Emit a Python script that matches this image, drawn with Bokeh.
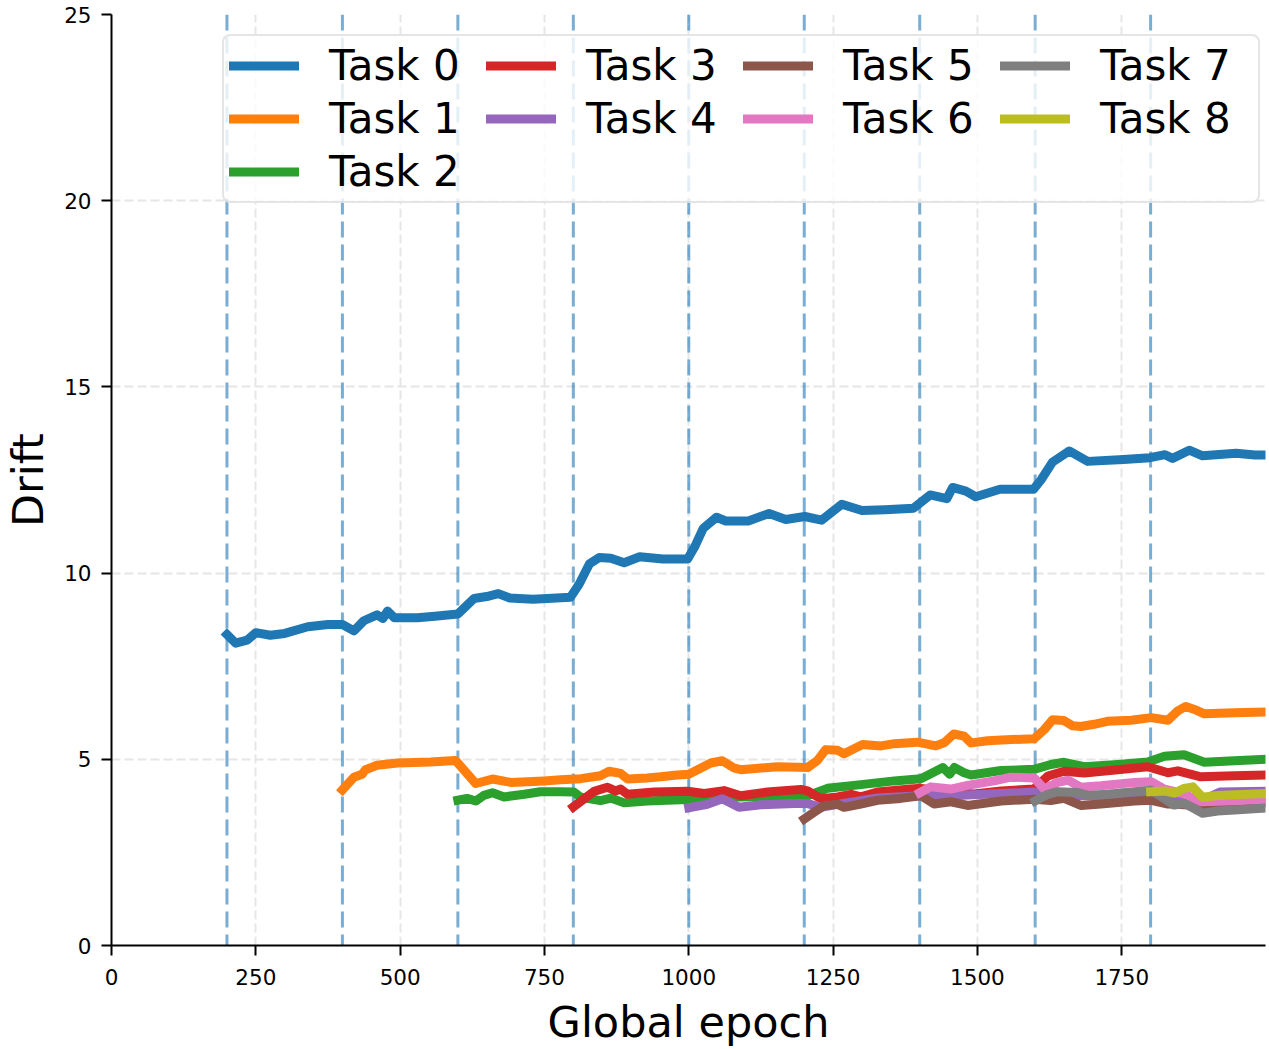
from bokeh.plotting import figure
from bokeh.models import Legend, LegendItem, Span, FixedTicker, Range1d
from bokeh.embed import file_html
from bokeh.resources import INLINE

# Drift of each task's parameters over global training epochs
task0_x = [200, 215, 235, 250, 275, 300, 340, 375, 400, 420, 437, 460, 470, 478, 490, 530, 560, 600,
           628, 650, 670, 690, 730, 755, 795, 810, 828, 845, 865, 888, 915, 955, 998, 1010, 1025, 1048,
           1064, 1103, 1139, 1168, 1201, 1230, 1265, 1300, 1340, 1389, 1418, 1447, 1457, 1480, 1497,
           1539, 1597, 1610, 1630, 1659, 1691, 1753, 1799, 1825, 1838, 1867, 1890, 1948, 1981, 1999]
task0_y = [8.35, 8.12, 8.2, 8.4, 8.33, 8.38, 8.56, 8.62, 8.62, 8.45, 8.72, 8.88, 8.78, 8.98, 8.8, 8.8,
           8.84, 8.9, 9.32, 9.37, 9.45, 9.33, 9.3, 9.32, 9.35, 9.7, 10.25, 10.42, 10.4, 10.28, 10.44,
           10.38, 10.38, 10.7, 11.2, 11.5, 11.4, 11.4, 11.6, 11.44, 11.52, 11.42, 11.85, 11.68, 11.7,
           11.74, 12.1, 12.0, 12.3, 12.2, 12.05, 12.25, 12.25, 12.5, 12.98, 13.28, 13.0, 13.05, 13.1,
           13.18, 13.08, 13.3, 13.15, 13.22, 13.17, 13.17]

task1_x = [400, 420, 434, 440, 460, 495, 553, 596, 631, 660, 692, 749, 778, 813, 847, 862, 882, 894,
           928, 951, 980, 1000, 1038, 1058, 1079, 1090, 1154, 1206, 1223, 1237, 1258, 1269, 1301, 1333,
           1356, 1396, 1428, 1443, 1459, 1477, 1489, 1518, 1558, 1598, 1616, 1630, 1650, 1665, 1679,
           1702, 1725, 1766, 1801, 1830, 1847, 1861, 1876, 1893, 1945, 1999]
task1_y = [4.18, 4.52, 4.6, 4.72, 4.84, 4.9, 4.93, 4.97, 4.35, 4.47, 4.38, 4.42, 4.45, 4.48, 4.56, 4.68,
           4.62, 4.47, 4.5, 4.53, 4.58, 4.6, 4.9, 4.96, 4.76, 4.72, 4.8, 4.78, 4.97, 5.26, 5.24, 5.15,
           5.4, 5.36, 5.42, 5.46, 5.36, 5.45, 5.68, 5.62, 5.44, 5.5, 5.53, 5.55, 5.8, 6.06, 6.04, 5.9,
           5.88, 5.94, 6.02, 6.05, 6.12, 6.05, 6.3, 6.42, 6.34, 6.22, 6.25, 6.27]

task2_x = [600, 616, 631, 645, 660, 680, 715, 743, 778, 801, 813, 847, 865, 888, 928, 998, 1067, 1183,
           1206, 1240, 1298, 1356, 1402, 1425, 1440, 1452, 1460, 1477, 1489, 1541, 1598, 1627, 1650,
           1685, 1743, 1795, 1824, 1858, 1893, 1945, 1999]
task2_y = [3.9, 3.95, 3.88, 4.03, 4.1, 3.99, 4.06, 4.13, 4.13, 4.12, 3.98, 3.89, 3.96, 3.83, 3.88, 3.92,
           3.98, 4.02, 4.02, 4.22, 4.32, 4.42, 4.48, 4.66, 4.78, 4.6, 4.78, 4.64, 4.58, 4.7, 4.73, 4.86,
           4.92, 4.8, 4.86, 4.93, 5.08, 5.12, 4.92, 4.96, 5.0]

task3_x = [800, 836, 859, 873, 882, 894, 940, 998, 1027, 1061, 1090, 1136, 1194, 1206, 1229, 1258, 1281,
           1298, 1327, 1385, 1402, 1454, 1494, 1541, 1598, 1622, 1650, 1685, 1743, 1795, 1830, 1847,
           1887, 1945, 1999]
task3_y = [3.72, 4.14, 4.25, 4.15, 4.2, 4.06, 4.12, 4.14, 4.08, 4.16, 4.02, 4.12, 4.19, 4.15, 3.94, 3.99,
           4.06, 3.99, 4.12, 4.2, 4.22, 4.12, 4.07, 4.15, 4.2, 4.55, 4.68, 4.63, 4.72, 4.8, 4.64, 4.69,
           4.53, 4.56, 4.58]

task4_x = [1000, 1032, 1058, 1087, 1125, 1183, 1206, 1229, 1258, 1327, 1402, 1454, 1541, 1598, 1650,
           1714, 1801, 1858, 1890, 1920, 1999]
task4_y = [3.7, 3.79, 3.94, 3.71, 3.78, 3.81, 3.81, 3.71, 3.79, 3.96, 4.02, 4.02, 4.08, 4.12, 4.05, 4.0,
           4.08, 3.95, 3.9, 4.12, 4.14]

task5_x = [1200, 1217, 1235, 1258, 1269, 1298, 1327, 1367, 1402, 1425, 1454, 1483, 1541, 1598, 1627,
           1650, 1679, 1714, 1772, 1801, 1830, 1887, 1945, 1999]
task5_y = [3.4, 3.58, 3.76, 3.79, 3.71, 3.8, 3.9, 3.95, 4.02, 3.8, 3.86, 3.76, 3.88, 3.93, 3.89, 3.95,
           3.76, 3.8, 3.88, 3.9, 3.8, 3.76, 3.8, 3.84]

task6_x = [1400, 1419, 1454, 1483, 1529, 1558, 1598, 1616, 1639, 1657, 1679, 1714, 1772, 1801, 1824,
           1858, 1887, 1945, 1999]
task6_y = [4.1, 4.26, 4.2, 4.3, 4.42, 4.52, 4.5, 4.2, 4.38, 4.44, 4.25, 4.29, 4.38, 4.4, 4.2, 4.07, 3.86,
           3.89, 3.93]

task7_x = [1600, 1622, 1639, 1674, 1691, 1725, 1772, 1801, 1824, 1841, 1858, 1876, 1890, 1916, 1945, 1999]
task7_y = [3.88, 4.06, 4.13, 4.11, 4.03, 4.06, 4.13, 4.17, 3.94, 3.77, 3.82, 3.67, 3.55, 3.61, 3.64, 3.69]

task8_x = [1800, 1824, 1841, 1858, 1873, 1890, 1916, 1945, 1999]
task8_y = [4.13, 4.15, 4.09, 4.22, 4.26, 3.98, 4.03, 4.05, 4.08]

task_labels = ["Task 0", "Task 1", "Task 2", "Task 3", "Task 4", "Task 5", "Task 6", "Task 7", "Task 8"]
task_colors = ["#1f77b4", "#ff7f0e", "#2ca02c", "#d62728", "#9467bd",
               "#8c564b", "#e377c2", "#7f7f7f", "#bcbd22"]
task_boundaries = [200, 400, 600, 800, 1000, 1200, 1400, 1600, 1800]
x_ticks = [0, 250, 500, 750, 1000, 1250, 1500, 1750]
y_ticks = [0, 5, 10, 15, 20, 25]

series = [(task0_x, task0_y), (task1_x, task1_y), (task2_x, task2_y), (task3_x, task3_y),
          (task4_x, task4_y), (task5_x, task5_y), (task6_x, task6_y), (task7_x, task7_y),
          (task8_x, task8_y)]

FONT = "DejaVu Sans"

p = figure(width=1269, height=1049, output_backend="svg", toolbar_location=None,
           x_range=Range1d(0, 1999), y_range=Range1d(0, 25),
           min_border_left=111, min_border_right=4, min_border_top=14, min_border_bottom=104)
p.outline_line_color = None
p.background_fill_color = "white"

# axes
for ax in (p.xaxis[0], p.yaxis[0]):
    ax.axis_line_width = 2
    ax.axis_line_color = "black"
    ax.major_tick_line_width = 2
    ax.major_tick_out = 10
    ax.major_tick_in = 0
    ax.minor_tick_out = 0
    ax.minor_tick_in = 0
    ax.major_label_text_font = FONT
    ax.major_label_text_font_size = "21.5px"
    ax.major_label_text_color = "black"
    ax.axis_label_text_font = FONT
    ax.axis_label_text_font_size = "43px"
    ax.axis_label_text_font_style = "normal"
    ax.axis_label_text_color = "black"

p.xaxis.ticker = FixedTicker(ticks=x_ticks)
p.yaxis.ticker = FixedTicker(ticks=y_ticks)
p.xaxis.axis_label = "Global epoch"
p.yaxis.axis_label = "Drift"
p.xaxis.major_label_standoff = 13
p.yaxis.major_label_standoff = 10
p.xaxis.axis_label_standoff = 9
p.yaxis.axis_label_standoff = 8

# grid
p.xgrid.ticker = FixedTicker(ticks=x_ticks)
p.ygrid.ticker = FixedTicker(ticks=y_ticks)
for g in (p.xgrid[0], p.ygrid[0]):
    g.grid_line_color = "#e6e6e6"
    g.grid_line_width = 2
    g.grid_line_dash = "9 4"

# task boundaries
for b in task_boundaries:
    p.add_layout(Span(location=b, dimension="height", line_color="#1f77b4", line_alpha=0.6,
                      line_width=3, line_dash="16 7", level="underlay"))

renderers = []
for (xs, ys), color in zip(series, task_colors):
    r = p.line(xs, ys, line_color=color, line_width=9, line_join="round", line_cap="square")
    renderers.append(r)

# placeholder entry keeps the legend columns at 3/2/2/2
blank = p.line(x=[], y=[], line_alpha=0)

items = [LegendItem(label=lab, renderers=[r]) for lab, r in zip(task_labels, renderers)]
layout_items = items[0:5] + [LegendItem(label="", renderers=[blank])] + items[5:7] + \
    [LegendItem(label="", renderers=[blank])] + items[7:9]

legend = Legend(items=layout_items, orientation="vertical", ncols=4, location=(111, 742))
legend.label_text_font = FONT
legend.label_text_font_size = "42px"
legend.label_text_color = "black"
legend.glyph_width = 70
legend.glyph_height = 49
legend.label_standoff = 30
legend.label_width = 153
legend.spacing = 4
legend.padding = 5
legend.margin = 0
legend.border_line_color = "#cccccc"
legend.border_line_width = 2
legend.border_radius = 8
legend.background_fill_color = "white"
legend.background_fill_alpha = 0.8
p.add_layout(legend, "center")

open("out.html", "w").write(file_html(p, INLINE))
